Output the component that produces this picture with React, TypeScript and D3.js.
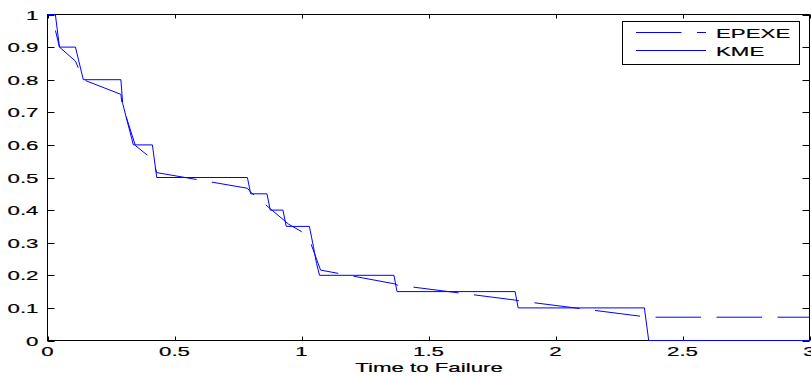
import React from 'react';
import * as d3 from 'd3';

// Kaplan-Meier estimate (solid step curve)
const kmeTime = [0, 0.031, 0.047, 0.11, 0.141, 0.289, 0.296, 0.338, 0.413, 0.43, 0.787, 0.8, 0.864, 0.877, 0.927, 0.94, 1.031, 1.047, 1.059, 1.071, 1.364, 1.376, 1.841, 1.853, 2.35, 2.367, 3.0];
const kmeSurv = [1, 1, 0.9, 0.9, 0.8, 0.8, 0.727, 0.6, 0.6, 0.5, 0.5, 0.45, 0.45, 0.4, 0.4, 0.35, 0.35, 0.288, 0.237, 0.2, 0.2, 0.15, 0.15, 0.1, 0.1, 0, 0];

// piecewise exponential estimate (dashed)
const epexeTime = [0, 0.031, 0.047, 0.11, 0.141, 0.289, 0.293, 0.346, 0.413, 0.43, 0.787, 0.8, 0.949, 1.0, 1.031, 1.075, 1.365, 1.377, 1.841, 1.853, 2.35, 2.367, 3.0];
const epexeSurv = [0.995, 0.952, 0.9, 0.857, 0.8, 0.755, 0.727, 0.598, 0.556, 0.515, 0.467, 0.455, 0.357, 0.334, 0.31, 0.216, 0.174, 0.17, 0.124, 0.122, 0.073, 0.0715, 0.0715];

const xTicks = [0, 0.5, 1, 1.5, 2, 2.5, 3];
const yTicks = [0, 0.1, 0.2, 0.3, 0.4, 0.5, 0.6, 0.7, 0.8, 0.9, 1];
const seriesNames = ['EPEXE', 'KME'];
const xLabel = 'Time to Failure';

const W = 811;
const H = 377;
const BLUE = '#0000ff';
const DASH = [45.5, 15.5];
const FONT = 'Arial, "Liberation Sans", Helvetica, sans-serif';
const FS = 13.5;
const STRETCH = 1.65;

const x = d3.scaleLinear().domain([0, 3]).range([47.5, 809.5]);
const y = d3.scaleLinear().domain([0, 1]).range([340.5, 14.5]);

const toPts = (t: number[], s: number[]) => t.map((v, i) => [x(v), y(s[i])] as [number, number]);
const line = d3.line<[number, number]>();

// pixel length along a polyline up to a given x
const lengthUntil = (pts: [number, number][], px: number) => {
  let L = 0;
  for (let i = 1; i < pts.length; i++) {
    const [x0, y0] = pts[i - 1];
    const [x1, y1] = pts[i];
    if (x1 >= px) {
      const f = x1 === x0 ? 1 : (px - x0) / (x1 - x0);
      return L + Math.hypot((x1 - x0) * f, (y1 - y0) * f);
    }
    L += Math.hypot(x1 - x0, y1 - y0);
  }
  return L;
};

const Label: React.FC<{ x: number; y: number; anchor: string; children: React.ReactNode }> = ({ x, y, anchor, children }) => (
  <g transform={`translate(${x},${y}) scale(${STRETCH},1)`}>
    <text textAnchor={anchor} fontFamily={FONT} fontSize={FS} fill="#000" stroke="#000" strokeWidth={0.2}>{children}</text>
  </g>
);

export default function App() {
  const kmePts = toPts(kmeTime, kmeSurv);
  const epPts = toPts(epexeTime, epexeSurv);
  const period = DASH[0] + DASH[1];
  // a dash of the flat tail starts near t = 2.634
  const L = lengthUntil(epPts, x(2.634));
  const offset = (((-L) % period) + period) % period;

  const [left, right] = x.range();
  const [bottom, top] = y.range();

  return (
    <svg width={W} height={H} style={{ position: 'absolute', left: 0, top: 0, background: '#fff' }}>
      <rect x={0} y={0} width={W} height={H} fill="#fff" />

      <rect x={left} y={top} width={right - left} height={bottom - top} fill="none" stroke="#000" strokeWidth={1} />

      {xTicks.map(t => (
        <g key={'x' + t}>
          <line x1={Math.round(x(t)) + 0.5} x2={Math.round(x(t)) + 0.5} y1={bottom} y2={bottom - 4} stroke="#000" />
          <line x1={Math.round(x(t)) + 0.5} x2={Math.round(x(t)) + 0.5} y1={top} y2={top + 4} stroke="#000" />
          <Label x={x(t)} y={356} anchor="middle">{String(t)}</Label>
        </g>
      ))}
      {yTicks.map(v => (
        <g key={'y' + v}>
          <line x1={left} x2={left + 7} y1={Math.round(y(v)) + 0.5} y2={Math.round(y(v)) + 0.5} stroke="#000" />
          <line x1={right} x2={right - 7} y1={Math.round(y(v)) + 0.5} y2={Math.round(y(v)) + 0.5} stroke="#000" />
          <Label x={38.5} y={y(v) + 5} anchor="end">{String(v)}</Label>
        </g>
      ))}

      <path d={line(epPts) || ''} fill="none" stroke={BLUE} strokeWidth={1} strokeDasharray={DASH.join(',')} strokeDashoffset={offset} />
      <path d={line(kmePts) || ''} fill="none" stroke={BLUE} strokeWidth={1} />

      <Label x={(left + right) / 2 + 0.5} y={372} anchor="middle">{xLabel}</Label>

      <g>
        <rect x={622.5} y={21.5} width={177} height={43} fill="#fff" stroke="#000" strokeWidth={1} />
        {seriesNames.map((name, i) => {
          const ly = 32.5 + i * 18;
          return (
            <g key={name}>
              <line x1={636} x2={706} y1={ly} y2={ly} stroke={BLUE} strokeWidth={1}
                strokeDasharray={i === 0 ? DASH.join(',') : undefined} />
              <Label x={716} y={ly + 5} anchor="start">{name}</Label>
            </g>
          );
        })}
      </g>
    </svg>
  );
}
